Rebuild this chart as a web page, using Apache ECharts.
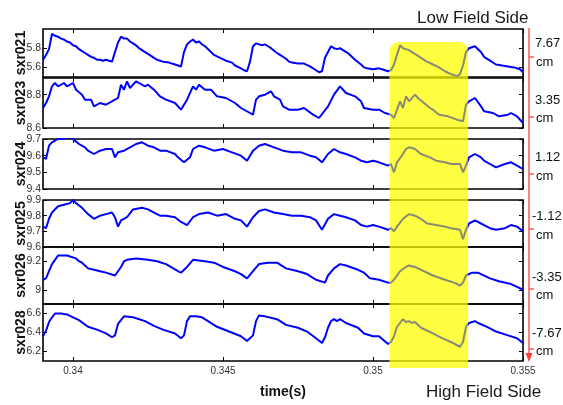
<!DOCTYPE html>
<html>
<head>
<meta charset="utf-8">
<script src="https://cdn.jsdelivr.net/npm/echarts@6/dist/echarts.min.js"></script>
<style>
  html, body { margin: 0; padding: 0; background: #fff; }
  #chart { width: 563px; height: 405px; }
</style>
</head>
<body>
<div id="chart"></div>
<script>
// Soft X-ray channels, time in seconds
const channels = ['sxr021', 'sxr023', 'sxr024', 'sxr025', 'sxr026', 'sxr028'];
const chordPositions = ['7.67', '3.35', '1.12', '-1.12', '-3.35', '-7.67'];
const timeTicks = [0.34, 0.345, 0.35, 0.355];
const timeRange = [0.339, 0.355];
const highlightWindow = [0.35055, 0.35317];

const ticks021 = [5.6, 5.8];
const ticks023 = [8.6, 8.8];
const ticks024 = [9.4, 9.5, 9.6, 9.7];
const ticks025 = [9.6, 9.7, 9.8, 9.9];
const ticks026 = [9, 9.2];
const ticks028 = [6.2, 6.4, 6.6];

const range021 = [5.5, 6.0];
const range023 = [8.6, 8.9];
const range024 = [9.4, 9.7];
const range025 = [9.6, 9.9];
const range026 = [8.9, 9.3];
const range028 = [6.1, 6.7];

const sxr021 = [[0.3390,5.68],[0.3391,5.73],[0.3392,5.79],[0.3393,5.95],[0.3394,5.93],[0.3395,5.92],[0.3396,5.90],[0.3397,5.89],[0.3398,5.87],[0.3399,5.86],[0.3400,5.83],[0.3401,5.82],[0.3402,5.79],[0.3403,5.77],[0.3404,5.75],[0.3405,5.73],[0.3406,5.71],[0.3407,5.70],[0.3408,5.68],[0.3409,5.68],[0.3410,5.67],[0.3411,5.68],[0.3412,5.67],[0.3413,5.66],[0.3414,5.76],[0.3415,5.86],[0.3416,5.92],[0.3417,5.90],[0.3418,5.90],[0.3419,5.87],[0.3420,5.85],[0.3421,5.83],[0.3422,5.80],[0.3423,5.78],[0.3424,5.76],[0.3425,5.74],[0.3426,5.72],[0.3427,5.70],[0.3428,5.68],[0.3430,5.66],[0.3432,5.65],[0.3434,5.63],[0.3435,5.62],[0.3436,5.61],[0.3437,5.76],[0.3438,5.84],[0.3439,5.87],[0.3440,5.89],[0.3441,5.86],[0.3442,5.87],[0.3443,5.84],[0.3444,5.82],[0.3446,5.76],[0.3447,5.73],[0.3449,5.70],[0.3451,5.67],[0.3453,5.65],[0.3454,5.62],[0.3456,5.59],[0.3457,5.57],[0.3458,5.56],[0.3459,5.66],[0.3460,5.82],[0.3461,5.85],[0.3462,5.84],[0.3463,5.83],[0.3464,5.84],[0.3465,5.82],[0.3466,5.80],[0.3468,5.75],[0.3469,5.73],[0.3471,5.69],[0.3472,5.66],[0.3473,5.65],[0.3475,5.64],[0.3477,5.64],[0.3479,5.61],[0.3481,5.57],[0.3482,5.55],[0.3483,5.56],[0.3484,5.70],[0.3485,5.76],[0.3486,5.82],[0.3487,5.80],[0.3488,5.79],[0.3489,5.80],[0.3490,5.78],[0.3492,5.74],[0.3494,5.68],[0.3496,5.63],[0.3497,5.60],[0.3498,5.59],[0.3500,5.58],[0.3502,5.59],[0.3503,5.58],[0.3504,5.57],[0.3505,5.56],[0.3506,5.57],[0.3507,5.63],[0.3508,5.73],[0.3509,5.83],[0.3510,5.80],[0.3511,5.79],[0.3512,5.78],[0.3513,5.76],[0.3515,5.72],[0.3516,5.70],[0.3518,5.66],[0.3520,5.63],[0.3522,5.60],[0.3524,5.56],[0.3526,5.53],[0.3528,5.51],[0.3529,5.53],[0.3530,5.62],[0.3531,5.76],[0.3532,5.80],[0.3533,5.81],[0.3534,5.82],[0.3535,5.79],[0.3536,5.76],[0.3537,5.71],[0.3539,5.67],[0.3541,5.63],[0.3543,5.62],[0.3545,5.61],[0.3547,5.60],[0.3549,5.58],[0.3550,5.55]];

const sxr023 = [[0.3390,8.72],[0.3391,8.75],[0.3392,8.79],[0.3393,8.85],[0.3394,8.87],[0.3395,8.85],[0.3397,8.87],[0.3398,8.85],[0.3400,8.87],[0.3401,8.83],[0.3403,8.80],[0.3404,8.77],[0.3406,8.77],[0.3407,8.73],[0.3409,8.75],[0.3411,8.74],[0.3412,8.75],[0.3414,8.77],[0.3415,8.78],[0.3416,8.86],[0.3417,8.83],[0.3418,8.88],[0.3419,8.84],[0.3421,8.88],[0.3422,8.87],[0.3424,8.85],[0.3425,8.86],[0.3427,8.83],[0.3429,8.79],[0.3431,8.77],[0.3434,8.75],[0.3436,8.71],[0.3438,8.77],[0.3440,8.85],[0.3441,8.83],[0.3442,8.86],[0.3444,8.83],[0.3446,8.83],[0.3448,8.79],[0.3451,8.78],[0.3454,8.75],[0.3456,8.72],[0.3459,8.69],[0.3460,8.68],[0.3461,8.77],[0.3462,8.79],[0.3464,8.80],[0.3466,8.82],[0.3467,8.79],[0.3469,8.77],[0.3470,8.73],[0.3472,8.71],[0.3475,8.71],[0.3477,8.72],[0.3480,8.68],[0.3482,8.66],[0.3485,8.73],[0.3487,8.80],[0.3489,8.85],[0.3491,8.81],[0.3494,8.79],[0.3496,8.76],[0.3497,8.72],[0.3500,8.71],[0.3502,8.71],[0.3504,8.69],[0.3506,8.68],[0.3507,8.66],[0.3509,8.76],[0.3510,8.72],[0.3511,8.79],[0.3512,8.76],[0.3514,8.80],[0.3515,8.78],[0.3517,8.75],[0.3519,8.72],[0.3520,8.71],[0.3522,8.68],[0.3525,8.67],[0.3528,8.65],[0.3530,8.64],[0.3531,8.74],[0.3532,8.76],[0.3534,8.78],[0.3536,8.73],[0.3537,8.70],[0.3540,8.69],[0.3542,8.67],[0.3545,8.68],[0.3546,8.69],[0.3548,8.67],[0.3550,8.63]];

const sxr024 = [[0.3390,9.59],[0.3391,9.58],[0.3392,9.66],[0.3393,9.68],[0.3394,9.69],[0.3395,9.70],[0.3396,9.70],[0.3399,9.71],[0.3400,9.70],[0.3402,9.67],[0.3404,9.65],[0.3405,9.63],[0.3407,9.61],[0.3409,9.63],[0.3411,9.64],[0.3413,9.64],[0.3414,9.59],[0.3415,9.62],[0.3417,9.63],[0.3419,9.65],[0.3421,9.67],[0.3423,9.68],[0.3425,9.66],[0.3427,9.65],[0.3429,9.63],[0.3431,9.63],[0.3434,9.61],[0.3435,9.59],[0.3437,9.56],[0.3439,9.59],[0.3440,9.64],[0.3442,9.66],[0.3444,9.65],[0.3447,9.63],[0.3450,9.64],[0.3453,9.62],[0.3456,9.60],[0.3458,9.57],[0.3460,9.63],[0.3462,9.66],[0.3464,9.67],[0.3467,9.65],[0.3470,9.63],[0.3473,9.62],[0.3476,9.62],[0.3479,9.60],[0.3481,9.59],[0.3483,9.56],[0.3485,9.61],[0.3487,9.64],[0.3489,9.62],[0.3491,9.61],[0.3494,9.59],[0.3496,9.57],[0.3498,9.56],[0.3500,9.57],[0.3502,9.56],[0.3505,9.54],[0.3506,9.55],[0.3507,9.50],[0.3508,9.56],[0.3510,9.61],[0.3511,9.64],[0.3512,9.65],[0.3514,9.64],[0.3516,9.61],[0.3519,9.59],[0.3521,9.57],[0.3524,9.56],[0.3526,9.55],[0.3529,9.55],[0.3530,9.50],[0.3531,9.54],[0.3532,9.59],[0.3534,9.61],[0.3536,9.59],[0.3537,9.57],[0.3539,9.55],[0.3541,9.53],[0.3544,9.55],[0.3546,9.56],[0.3548,9.54],[0.3550,9.52]];

const sxr025 = [[0.3390,9.73],[0.3391,9.72],[0.3392,9.78],[0.3393,9.82],[0.3395,9.86],[0.3397,9.87],[0.3399,9.88],[0.3400,9.90],[0.3401,9.88],[0.3403,9.85],[0.3405,9.81],[0.3407,9.78],[0.3409,9.80],[0.3411,9.81],[0.3413,9.82],[0.3414,9.79],[0.3415,9.73],[0.3416,9.77],[0.3418,9.79],[0.3420,9.84],[0.3423,9.85],[0.3425,9.84],[0.3427,9.82],[0.3429,9.80],[0.3431,9.80],[0.3434,9.79],[0.3436,9.76],[0.3438,9.74],[0.3440,9.79],[0.3442,9.81],[0.3445,9.82],[0.3448,9.80],[0.3451,9.81],[0.3454,9.78],[0.3456,9.77],[0.3458,9.73],[0.3460,9.79],[0.3462,9.83],[0.3464,9.84],[0.3467,9.82],[0.3470,9.81],[0.3473,9.80],[0.3476,9.80],[0.3479,9.79],[0.3481,9.77],[0.3483,9.71],[0.3485,9.78],[0.3487,9.81],[0.3489,9.80],[0.3491,9.79],[0.3494,9.77],[0.3496,9.74],[0.3498,9.73],[0.3500,9.74],[0.3502,9.73],[0.3505,9.71],[0.3506,9.72],[0.3507,9.70],[0.3508,9.73],[0.3510,9.78],[0.3512,9.81],[0.3514,9.80],[0.3516,9.78],[0.3518,9.75],[0.3521,9.74],[0.3524,9.73],[0.3526,9.72],[0.3529,9.71],[0.3530,9.65],[0.3531,9.71],[0.3532,9.75],[0.3534,9.77],[0.3536,9.75],[0.3537,9.74],[0.3539,9.72],[0.3541,9.71],[0.3544,9.72],[0.3546,9.74],[0.3548,9.73],[0.3550,9.70]];

const sxr026 = [[0.3390,9.07],[0.3391,9.08],[0.3392,9.13],[0.3393,9.18],[0.3394,9.21],[0.3395,9.24],[0.3398,9.24],[0.3401,9.22],[0.3402,9.20],[0.3403,9.19],[0.3405,9.15],[0.3407,9.14],[0.3409,9.13],[0.3411,9.12],[0.3414,9.10],[0.3416,9.16],[0.3417,9.20],[0.3418,9.21],[0.3421,9.22],[0.3425,9.21],[0.3428,9.20],[0.3431,9.18],[0.3435,9.13],[0.3436,9.12],[0.3438,9.16],[0.3440,9.21],[0.3444,9.20],[0.3447,9.19],[0.3450,9.16],[0.3454,9.13],[0.3456,9.11],[0.3458,9.08],[0.3460,9.13],[0.3462,9.18],[0.3465,9.19],[0.3468,9.19],[0.3471,9.15],[0.3475,9.13],[0.3478,9.11],[0.3481,9.07],[0.3484,9.05],[0.3485,9.10],[0.3487,9.15],[0.3489,9.18],[0.3491,9.17],[0.3495,9.14],[0.3497,9.12],[0.3499,9.08],[0.3502,9.07],[0.3505,9.05],[0.3506,9.05],[0.3507,9.07],[0.3509,9.13],[0.3511,9.16],[0.3512,9.17],[0.3514,9.16],[0.3517,9.13],[0.3520,9.10],[0.3524,9.07],[0.3527,9.05],[0.3529,9.03],[0.3530,9.05],[0.3531,9.10],[0.3533,9.12],[0.3535,9.12],[0.3536,9.11],[0.3539,9.08],[0.3542,9.06],[0.3546,9.04],[0.3548,9.02],[0.3550,9.00]];

const sxr028 = [[0.3390,6.36],[0.3391,6.42],[0.3392,6.51],[0.3393,6.56],[0.3394,6.60],[0.3396,6.60],[0.3398,6.59],[0.3400,6.56],[0.3402,6.53],[0.3405,6.46],[0.3408,6.43],[0.3411,6.39],[0.3413,6.35],[0.3414,6.37],[0.3415,6.49],[0.3417,6.57],[0.3420,6.56],[0.3424,6.52],[0.3427,6.47],[0.3430,6.43],[0.3434,6.39],[0.3436,6.34],[0.3437,6.37],[0.3438,6.52],[0.3439,6.57],[0.3441,6.57],[0.3443,6.56],[0.3445,6.52],[0.3448,6.46],[0.3452,6.41],[0.3456,6.36],[0.3458,6.31],[0.3460,6.37],[0.3461,6.52],[0.3462,6.58],[0.3464,6.57],[0.3468,6.54],[0.3471,6.48],[0.3475,6.45],[0.3478,6.41],[0.3481,6.34],[0.3483,6.29],[0.3484,6.35],[0.3485,6.45],[0.3486,6.52],[0.3487,6.54],[0.3488,6.52],[0.3489,6.54],[0.3491,6.50],[0.3495,6.45],[0.3497,6.39],[0.3500,6.36],[0.3502,6.36],[0.3505,6.28],[0.3506,6.30],[0.3507,6.36],[0.3508,6.46],[0.3509,6.50],[0.3510,6.54],[0.3511,6.51],[0.3512,6.52],[0.3513,6.50],[0.3514,6.51],[0.3516,6.45],[0.3520,6.39],[0.3523,6.34],[0.3526,6.30],[0.3529,6.25],[0.3530,6.30],[0.3531,6.46],[0.3532,6.50],[0.3534,6.52],[0.3535,6.50],[0.3538,6.46],[0.3541,6.41],[0.3545,6.37],[0.3548,6.34],[0.3550,6.29]];

// panel layout: one grid per channel, stacked
const panels = [
  { data: sxr021, range: range021, ticks: ticks021, top: 29,  height: 48 },
  { data: sxr023, range: range023, ticks: ticks023, top: 78,  height: 50 },
  { data: sxr024, range: range024, ticks: ticks024, top: 139, height: 50 },
  { data: sxr025, range: range025, ticks: ticks025, top: 200, height: 47 },
  { data: sxr026, range: range026, ticks: ticks026, top: 247, height: 57 },
  { data: sxr028, range: range028, ticks: ticks028, top: 304, height: 57 }
];

const FONT = '"Liberation Sans", Arial, Helvetica, sans-serif';
const LEFT = 43, RIGHT = 40;

const grid = [], xAxis = [], yAxis = [], series = [];
panels.forEach((p, i) => {
  grid.push({
    left: LEFT, right: RIGHT, top: p.top, height: p.height,
    outerBoundsMode: 'none', containLabel: false,
    show: true, borderColor: '#000', borderWidth: 1.6, backgroundColor: 'transparent'
  });
  const last = i === panels.length - 1;
  ['bottom', 'top'].forEach(pos => {
    const primary = pos === 'bottom';
    xAxis.push({
      type: 'value', gridIndex: i, position: pos,
      min: timeRange[0], max: timeRange[1],
      axisLine: { show: false },
      splitLine: { show: false },
      axisTick: { show: true, inside: true, length: 4, customValues: timeTicks,
                  lineStyle: { color: '#000', width: 1 } },
      axisLabel: { show: primary && last, customValues: timeTicks, margin: 5,
                   fontSize: 10, color: '#333', fontFamily: FONT,
                   formatter: v => String(v) },
      name: primary && last ? 'time(s)' : '',
      nameLocation: 'middle', nameGap: 24, nameMoveOverlap: false,
      nameTextStyle: { fontSize: 14, fontWeight: 'bold', color: '#111', fontFamily: FONT }
    });
  });
  ['left', 'right'].forEach(pos => {
    const primary = pos === 'left';
    yAxis.push({
      type: 'value', gridIndex: i, position: pos,
      min: p.range[0], max: p.range[1],
      axisLine: { show: false },
      splitLine: { show: false },
      axisTick: { show: true, inside: true, length: 4, customValues: p.ticks,
                  lineStyle: { color: '#000', width: 1 } },
      axisLabel: { show: primary, customValues: p.ticks, margin: 2,
                   fontSize: 10.5, color: '#333', fontFamily: FONT,
                   formatter: v => String(v) },
      name: primary ? channels[i] : '',
      nameLocation: 'middle', nameGap: 15, nameMoveOverlap: false,
      nameTextStyle: { fontSize: 14, fontWeight: 'bold', color: '#111', fontFamily: FONT }
    });
  });
  series.push({
    type: 'line', name: channels[i],
    xAxisIndex: 2 * i, yAxisIndex: 2 * i,
    data: p.data, showSymbol: false, smooth: false, z: 3,
    lineStyle: { width: 2 }
  });
});

const chart = echarts.init(document.getElementById('chart'), null, { renderer: 'canvas' });
chart.setOption({
  animation: false,
  textStyle: { fontFamily: FONT },
  grid, xAxis, yAxis, series,
  visualMap: {
    type: 'piecewise', show: false, dimension: 0,
    seriesIndex: series.map((s, i) => i),
    pieces: [{ gte: highlightWindow[0], lte: highlightWindow[1], color: '#8a8a74' }],
    outOfRange: { color: '#0000ff' }
  }
});

// Highlighted time window and chord-position annotations
const hx0 = chart.convertToPixel({ xAxisIndex: 0 }, highlightWindow[0]);
const hx1 = chart.convertToPixel({ xAxisIndex: 0 }, highlightWindow[1]);
const firstTop = panels[0].top;
const lastBottom = panels[panels.length - 1].top + panels[panels.length - 1].height;
const axisRight = chart.convertToPixel({ xAxisIndex: 0 }, timeRange[1]);
const bracketX = axisRight + 6;
const RED = '#ff4040';

const elements = [
  {
    type: 'rect', z: 1,
    shape: { x: hx0, y: firstTop + 13, width: hx1 - hx0, height: lastBottom + 7 - (firstTop + 13), r: [9, 9, 0, 0] },
    style: { fill: 'rgba(255,255,0,0.74)' }
  },
  {
    type: 'line', z: 5,
    shape: { x1: bracketX, y1: firstTop - 1, x2: bracketX, y2: lastBottom - 6 },
    style: { stroke: RED, lineWidth: 1.3 }
  },
  {
    type: 'polygon', z: 5,
    shape: { points: [[bracketX - 3.5, lastBottom - 8], [bracketX + 3.5, lastBottom - 8], [bracketX, lastBottom + 1]] },
    style: { fill: RED }
  },
  {
    type: 'text', z: 5, style: { x: 417, y: 18, text: 'Low Field Side', font: '17px ' + FONT,
      fill: '#1a1a1a', textVerticalAlign: 'middle' }
  },
  {
    type: 'text', z: 5, style: { x: 426, y: 392, text: 'High Field Side', font: '17px ' + FONT,
      fill: '#1a1a1a', textVerticalAlign: 'middle' }
  }
];

// value label and "cm" unit beside each channel, with a red marker on the bracket
const valueY = [43, 100, 157, 216, 277, 333];
const unitY = [62, 118, 176, 235, 295, 351];
const markY = [57, 117, 174, 229, 289, 349];
chordPositions.forEach((v, i) => {
  elements.push({
    type: 'text', z: 5,
    style: { x: v.startsWith('-') ? 532 : 535, y: valueY[i], text: v, font: '13px ' + FONT,
             fill: '#111', textVerticalAlign: 'middle' }
  });
  elements.push({
    type: 'text', z: 5,
    style: { x: 536, y: unitY[i], text: 'cm', font: '13px ' + FONT,
             fill: '#111', textVerticalAlign: 'middle' }
  });
  elements.push({
    type: 'line', z: 5,
    shape: { x1: bracketX, y1: markY[i], x2: bracketX + 5, y2: markY[i] },
    style: { stroke: RED, lineWidth: 1.3 }
  });
});

chart.setOption({ graphic: { elements } });
</script>
</body>
</html>
